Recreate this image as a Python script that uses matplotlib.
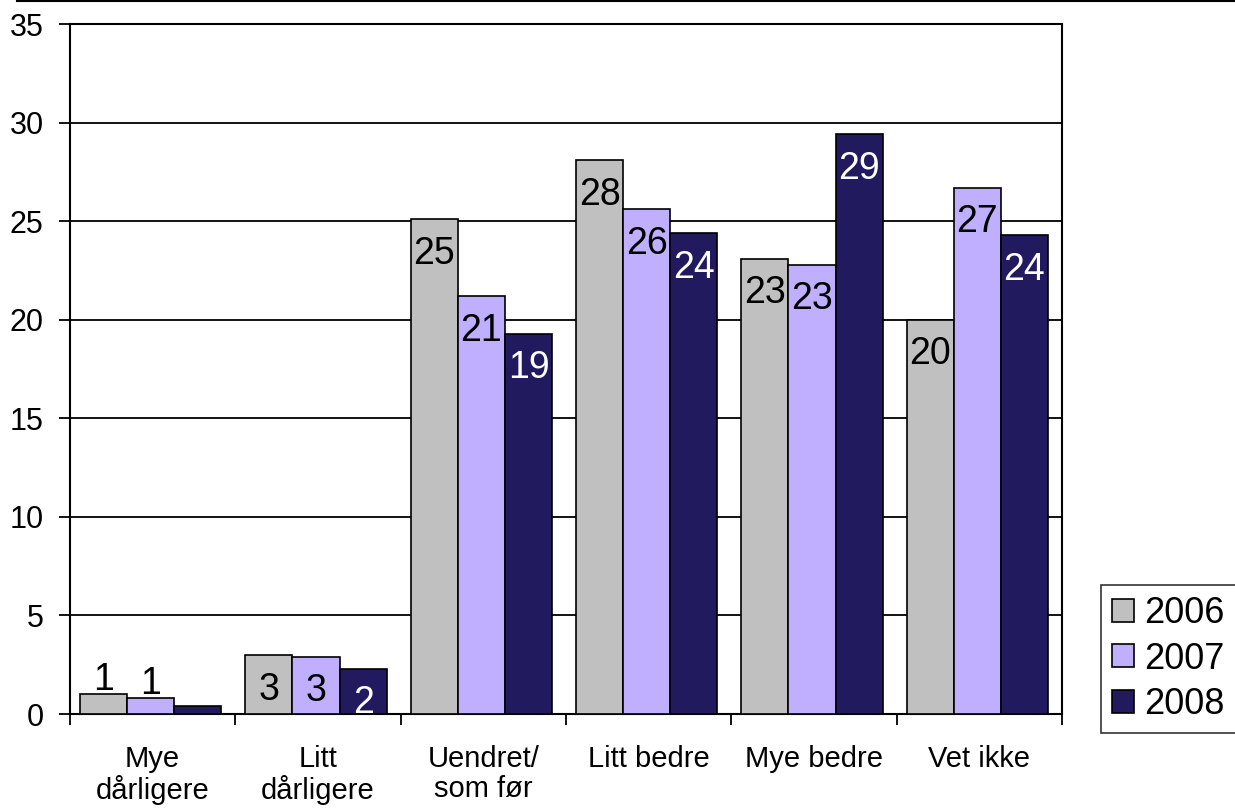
import numpy as np
import matplotlib
matplotlib.use("Agg")
import matplotlib.pyplot as plt
from matplotlib.lines import Line2D

plt.rcParams['font.family'] = ['Liberation Sans', 'DejaVu Sans']

# Data
categories = ["Mye\ndårligere", "Litt\ndårligere", "Uendret/\nsom før",
              "Litt bedre", "Mye bedre", "Vet ikke"]
years = ["2006", "2007", "2008"]
v2006 = [1.0, 3.0, 25.1, 28.1, 23.1, 20.0]
v2007 = [0.8, 2.9, 21.2, 25.6, 22.8, 26.7]
v2008 = [0.4, 2.3, 19.3, 24.4, 29.4, 24.3]

colors = ["#C0C0C0", "#C0AEFF", "#221A5E"]
label_colors = ["black", "black", "white"]

fig = plt.figure(figsize=(12.35, 8.08), dpi=100)
ax = fig.add_axes([70 / 1235, 94 / 808, (1062 - 70) / 1235, (714 - 24) / 808])

x = np.arange(len(categories))
w = 0.285
series = [v2006, v2007, v2008]
for i, (vals, c, lc, yr) in enumerate(zip(series, colors, label_colors, years)):
    bars = ax.bar(x + (i - 1) * w - 0.012, vals, w, color=c, edgecolor="black",
                  linewidth=1.2, label=yr, zorder=3)
    for b, v in zip(bars, vals):
        txt = f"{round(v):d}"
        if round(v) == 0:
            continue
        cx = b.get_x() + b.get_width() / 2
        if v < 2:
            ax.annotate(txt, (cx, v), xytext=(0, 3), textcoords="offset points",
                        ha="center", va="baseline", fontsize=27, color="black", zorder=2)
        else:
            ax.annotate(txt, (cx, v), xytext=(0, -12), textcoords="offset points",
                        ha="center", va="top", fontsize=27, color=lc, zorder=4)

ax.set_xlim(-0.5, len(categories) - 0.5)
ax.set_ylim(0, 35)
ax.set_yticks(range(0, 36, 5))
ax.yaxis.grid(True, color="black", linewidth=1.3, zorder=0)
ax.set_axisbelow(True)

# category ticks sit between groups, labels at group centres
ax.set_xticks(np.arange(-0.5, len(categories), 1.0))
ax.set_xticklabels([])
ax.set_xticks(x, minor=True)
ax.set_xticklabels(categories, minor=True, fontsize=21, va="top", linespacing=1.1)
ax.tick_params(axis="x", which="major", length=8, width=1.3, direction="out")
ax.tick_params(axis="x", which="minor", length=0, pad=22)
ax.tick_params(axis="y", length=8, width=1.3, labelsize=22, pad=11)

for s in ax.spines.values():
    s.set_linewidth(1.5)
    s.set_color("black")

leg = ax.legend(loc="upper left", bbox_to_anchor=(1101 / 1235, 223 / 808),
                bbox_transform=fig.transFigure, fontsize=26, frameon=True,
                fancybox=False, edgecolor="black", handlelength=0.6,
                handleheight=0.6, handletextpad=0.3, labelspacing=0.3,
                borderpad=0.3, borderaxespad=0)
leg.get_frame().set_linewidth(1.2)

# thin rule along the top of the picture
fig.add_artist(Line2D([17 / 1235, 1.0], [807 / 808, 807 / 808],
                      transform=fig.transFigure, color="black", linewidth=1.5))

fig.savefig("out.png", dpi=100)
